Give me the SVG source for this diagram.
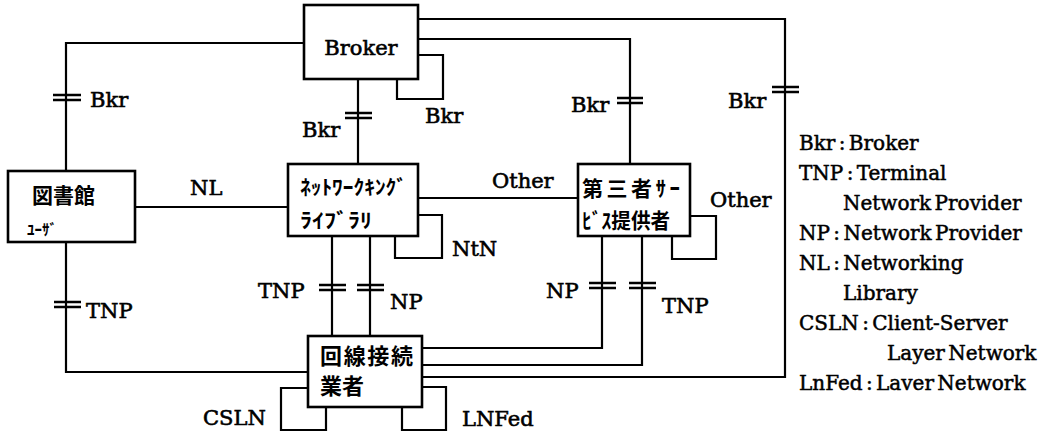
<svg xmlns="http://www.w3.org/2000/svg" width="1051" height="433" viewBox="0 0 1051 433">
<style>
.box{fill:#fff;stroke:#000;stroke-width:2.6}
.ln{fill:none;stroke:#000;stroke-width:2.2}
.tk{stroke:#000;stroke-width:2.4}
.lb{font-family:"DejaVu Serif","Liberation Serif",serif;font-size:21px;fill:#000;stroke:#000;stroke-width:0.6}
.lg{font-family:"DejaVu Serif","Liberation Serif",serif;font-size:20px;fill:#000;stroke:#000;stroke-width:0.5;word-spacing:-3px}
.jp{font-family:"Noto Sans CJK JP","Noto Sans CJK SC",sans-serif;font-weight:bold;fill:#000}
</style>
<rect width="1051" height="433" fill="#fff"/>
<g id="connectors">
<polyline class="ln" points="418,19 785,19 785,377 422,377"/>
<polyline class="ln" points="418,39 630,39 630,164"/>
<polyline class="ln" points="418,55 443,55 443,99 397,99 397,79"/>
<polyline class="ln" points="66,171 66,43 304,43"/>
<line class="ln" x1="358" y1="79" x2="358" y2="164"/>
<line class="ln" x1="135" y1="207" x2="288" y2="207"/>
<line class="ln" x1="418" y1="198" x2="578" y2="198"/>
<polyline class="ln" points="418,215 442,215 442,258 395,258 395,236"/>
<polyline class="ln" points="690,216 716,216 716,259 672,259 672,236"/>
<line class="ln" x1="332" y1="236" x2="332" y2="336"/>
<line class="ln" x1="370" y1="236" x2="370" y2="336"/>
<polyline class="ln" points="602,236 602,348 422,348"/>
<polyline class="ln" points="642,236 642,365 422,365"/>
<polyline class="ln" points="66,242 66,372 308,372"/>
<polyline class="ln" points="308,388 281,388 281,430 326,430 326,407"/>
<polyline class="ln" points="422,387 446,387 446,430 402,430 402,407"/>
<g id="ticks">
<path class="tk" d="M53,95H81M53,100H81"/>
<path class="tk" d="M345,113H372M345,118H372"/>
<path class="tk" d="M617,98H643M617,103H643"/>
<path class="tk" d="M772,87H799M772,92H799"/>
<path class="tk" d="M54,302H81M54,307H81"/>
<path class="tk" d="M319,285H346M319,290H346"/>
<path class="tk" d="M357,285H384M357,290H384"/>
<path class="tk" d="M589,283H616M589,288H616"/>
<path class="tk" d="M629,283H656M629,288H656"/>
</g>
<g id="connector-labels">
<text class="lb" x="90" y="107">Bkr</text>
<text class="lb" x="302" y="137">Bkr</text>
<text class="lb" x="425" y="123">Bkr</text>
<text class="lb" x="571" y="112">Bkr</text>
<text class="lb" x="728" y="108">Bkr</text>
<text class="lb" x="190" y="195">NL</text>
<text class="lb" x="492" y="188">Other</text>
<text class="lb" x="710" y="207">Other</text>
<text class="lb" x="452" y="256">NtN</text>
<text class="lb" x="86" y="318">TNP</text>
<text class="lb" x="258" y="298">TNP</text>
<text class="lb" x="390" y="309">NP</text>
<text class="lb" x="546" y="298">NP</text>
<text class="lb" x="662" y="313">TNP</text>
<text class="lb" x="203" y="425">CSLN</text>
<text class="lb" x="462" y="426">LNFed</text>
</g>
</g>
<g id="broker">
<rect class="box" x="304" y="5" width="114" height="74"/>
<text class="lb" x="361" y="55" text-anchor="middle">Broker</text>
</g>
<g id="library-user">
<rect class="box" x="8" y="171" width="127" height="71"/>
<text class="jp" x="32" y="203" font-size="21">図書館</text>
<text class="jp" x="27" y="235" font-size="15">ﾕｰｻﾞ</text>
</g>
<g id="networking-library">
<rect class="box" x="288" y="164" width="130" height="72"/>
<text class="jp" x="300" y="195" font-size="20" textLength="107" lengthAdjust="spacingAndGlyphs">ﾈｯﾄﾜｰｸｷﾝｸﾞ</text>
<text class="jp" x="300" y="228" font-size="20" textLength="72" lengthAdjust="spacingAndGlyphs">ﾗｲﾌﾞﾗﾘ</text>
</g>
<g id="third-party">
<rect class="box" x="578" y="164" width="112" height="72"/>
<text class="jp" x="582" y="196" font-size="21" textLength="98" lengthAdjust="spacing">第三者ｻｰ</text>
<text class="jp" x="582" y="228" font-size="21" textLength="88" lengthAdjust="spacingAndGlyphs">ﾋﾞｽ提供者</text>
</g>
<g id="carrier">
<rect class="box" x="308" y="336" width="114" height="71"/>
<text class="jp" x="320" y="364" font-size="22" textLength="93" lengthAdjust="spacing">回線接続</text>
<text class="jp" x="320" y="394" font-size="22">業者</text>
</g>
<g id="legend">
<text class="lg" x="799" y="150">Bkr : Broker</text>
<text class="lg" x="799" y="180">TNP : Terminal</text>
<text class="lg" x="843" y="210">Network Provider</text>
<text class="lg" x="799" y="240">NP : Network Provider</text>
<text class="lg" x="799" y="270">NL : Networking</text>
<text class="lg" x="843" y="300">Library</text>
<text class="lg" x="799" y="330">CSLN : Client-Server</text>
<text class="lg" x="887" y="360">Layer Network</text>
<text class="lg" x="799" y="390">LnFed : Laver Network</text>
</g>
</svg>
